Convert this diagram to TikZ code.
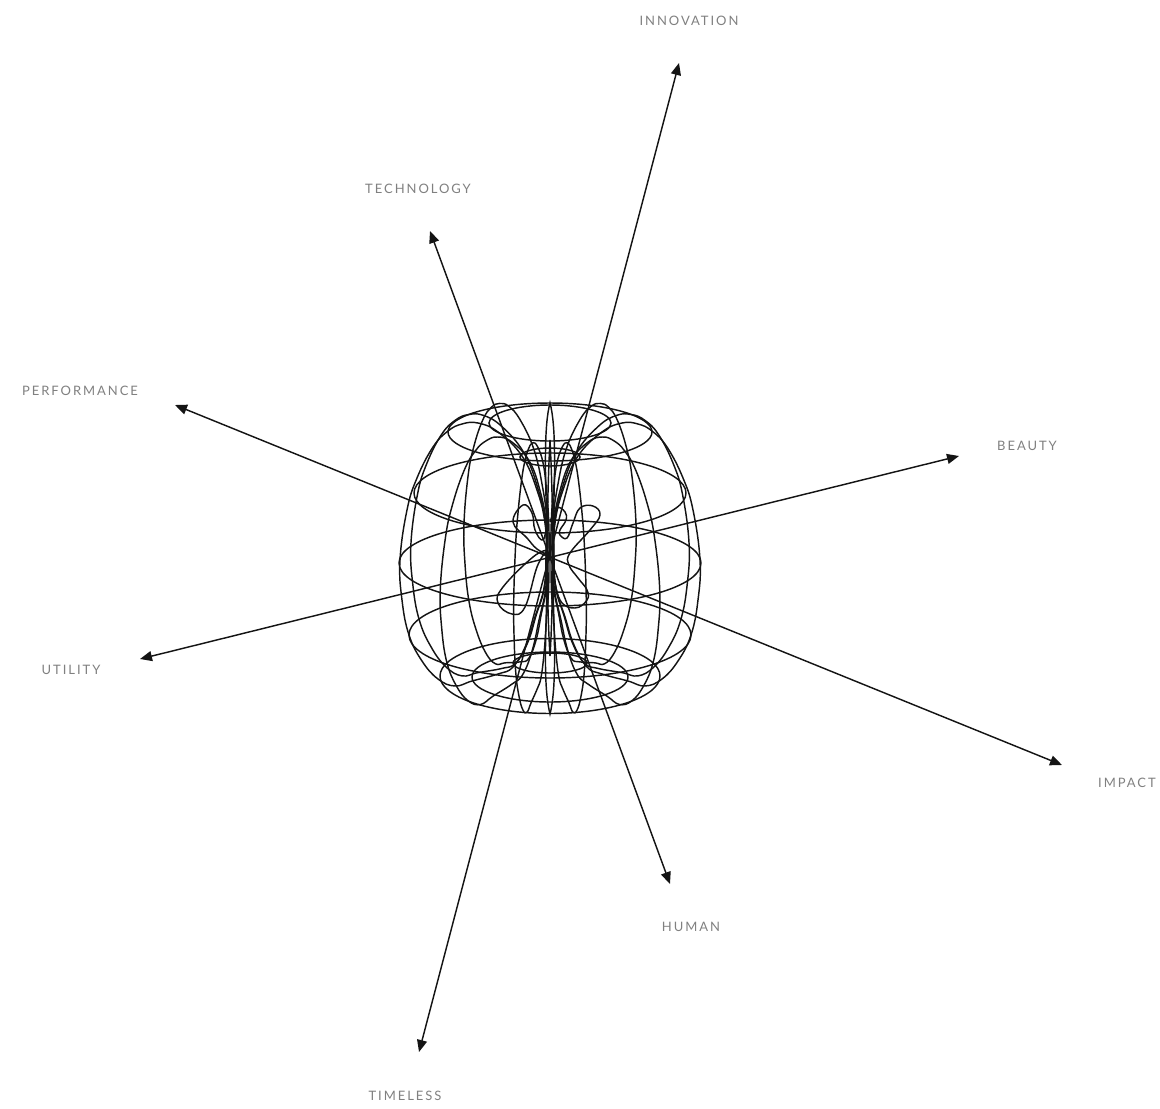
\documentclass[tikz,border=0pt]{standalone}
\usepackage{fontspec}
\usetikzlibrary{arrows.meta}
\newfontfamily\lab[LetterSpace=15]{Lato}
\newcommand{\prof}{(4,555) (5,523) (13,490) (28,456) (52,432) (72,423) (88,424) (102,431) (117,447) (133,478) (143,510) (150,560) (148,600) (141,635) (128,661) (112,679) (95,686) (78,681) (52,674) (37,667) (24,645) (15,617) (6,588)}
\tikzset{
 wire/.style={draw=black!92,line width=1.45pt},
 axisline/.style={draw=black!92,line width=1.45pt,{Triangle[length=12pt,width=10pt]}-{Triangle[length=12pt,width=10pt]}},
 tag/.style={text=black!50,font=\lab\fontsize{13}{16}\selectfont,inner sep=0pt}
}
\begin{document}
\begin{tikzpicture}[x=1pt,y=-1pt]
\useasboundingbox (0,0) rectangle (1160,1109);
% parallels
\foreach \cy/\rx/\ry in {423/61/18,432/102/29,457/30/9,493/136/40,563/151/43,635/141/43,676/110/37.5,677/78/25,663/37/10}
  \draw[wire] (550,\cy) ellipse [x radius=\rx, y radius=\ry];
% meridians
\foreach \p in {0,180,22,158,55,125,-43,-137,-76,-104}{
  \pgfmathsetmacro{\ca}{cos(\p)}
  \pgfmathsetmacro{\sa}{0.285*sin(\p)}
  \begin{scope}[cm={\ca,\sa,0,1,(550,0)}]
    \draw[wire] plot[smooth cycle,tension=0.7] coordinates {\prof};
  \end{scope}
}
% narrow lenses on the axis
\draw[wire] (550,403) .. controls (556,425) and (555,470) .. (553,530) .. controls (553,600) and (551,640) .. (550,656) .. controls (549,640) and (547,600) .. (547,530) .. controls (545,470) and (544,425) .. (550,403) -- cycle;
\draw[wire] (550,440) .. controls (552,480) and (553,520) .. (553,590) .. controls (555,650) and (556,690) .. (550,714) .. controls (544,690) and (545,650) .. (547,590) .. controls (547,520) and (548,480) .. (550,440) -- cycle;
% inner loops
\draw[wire] plot[smooth,tension=0.7] coordinates {(550,556) (537,549) (527,538) (513,522) (523,505) (532,513) (535,530) (543,540) (547,523)};
\draw[wire] plot[smooth,tension=0.7] coordinates {(550,522) (557,508) (565,512) (566,520) (560,530) (560,535) (567,538) (573,523) (580,508) (593,506) (600,515) (590,530) (570,553) (569,565) (578,578) (587,590) (587,600) (575,608) (560,600) (553,570)};
\draw[wire] plot[smooth,tension=0.7] coordinates {(548,550) (533,557) (503,587) (498,603) (512,614) (525,607) (537,567) (546,552)};
% axes
\coordinate (inn) at (679,63);
\coordinate (tim) at (419,1052);
\coordinate (tec) at (430,231);
\coordinate (hum) at (670,884);
\coordinate (per) at (175,405);
\coordinate (imp) at (1062,765);
\coordinate (bea) at (959,456);
\coordinate (uti) at (140,659);
\draw[axisline] (inn) -- (tim);
\draw[axisline] (tec) -- (hum);
\draw[axisline] (per) -- (imp);
\draw[axisline] (bea) -- (uti);
% labels
\node[tag] (linn) at (689,21) {INNOVATION};
\node[tag] (ltec) at (418,189) {TECHNOLOGY};
\node[tag] (lper) at (80,391) {PERFORMANCE};
\node[tag] (lbea) at (1027,446) {BEAUTY};
\node[tag] (luti) at (71,670) {UTILITY};
\node[tag] (limp) at (1127,783) {IMPACT};
\node[tag] (lhum) at (691,927) {HUMAN};
\node[tag] (ltim) at (405,1096) {TIMELESS};
\end{tikzpicture}
\end{document}
